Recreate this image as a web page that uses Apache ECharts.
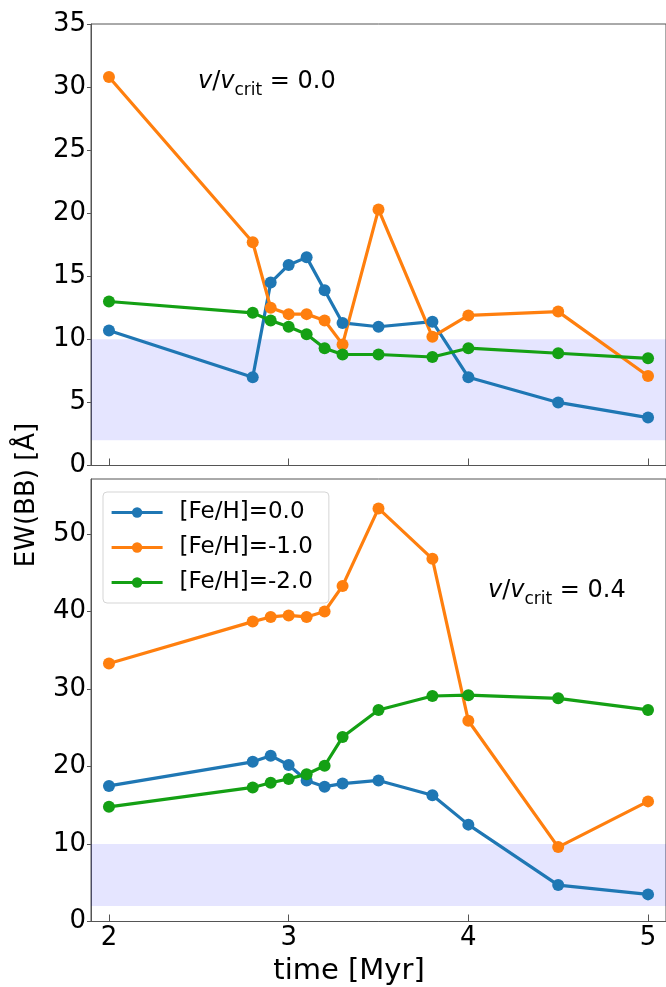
<!DOCTYPE html>
<html>
<head>
<meta charset="utf-8">
<script src="https://cdn.jsdelivr.net/npm/echarts@6/dist/echarts.min.js"></script>
<style>html,body{margin:0;padding:0;background:#fff;}#c{width:666px;height:987px;}</style>
</head>
<body>
<div id="c"></div>
<script>
const times = [2.0, 2.8, 2.9, 3.0, 3.1, 3.2, 3.3, 3.5, 3.8, 4.0, 4.5, 5.0];
const xTicks = [2, 3, 4, 5];
const seriesNames = ['[Fe/H]=0.0', '[Fe/H]=-1.0', '[Fe/H]=-2.0'];
// top panel: v/vcrit = 0.0
const top_fe0  = [10.7, 7.0, 14.5, 15.9, 16.5, 13.9, 11.3, 11.0, 11.4, 7.0, 5.0, 3.8];
const top_fem1 = [30.8, 17.7, 12.5, 12.0, 12.0, 11.5, 9.6, 20.3, 10.2, 11.9, 12.2, 7.1];
const top_fem2 = [13.0, 12.1, 11.5, 11.0, 10.4, 9.3, 8.8, 8.8, 8.6, 9.3, 8.9, 8.5];
// bottom panel: v/vcrit = 0.4
const bot_fe0  = [17.5, 20.6, 21.4, 20.2, 18.2, 17.4, 17.8, 18.2, 16.3, 12.5, 4.7, 3.5];
const bot_fem1 = [33.3, 38.7, 39.3, 39.5, 39.3, 40.0, 43.3, 53.3, 46.8, 25.9, 9.6, 15.5];
const bot_fem2 = [14.8, 17.3, 17.9, 18.4, 19.0, 20.1, 23.8, 27.3, 29.1, 29.2, 28.8, 27.3];
const bandRange = [2, 10];
const topYTicks = [0, 5, 10, 15, 20, 25, 30, 35];
const botYTicks = [0, 10, 20, 30, 40, 50];
const colors = ['#1f77b4', '#ff7f0e', '#14a014'];

const FONT = 'DejaVu Sans';
const pair = arr => times.map((t, i) => [t, arr[i]]);

function mkSeries(name, arr, color, gi, withBand) {
  const s = {
    name: name, type: 'line', xAxisIndex: gi, yAxisIndex: gi,
    data: pair(arr), symbol: 'circle', symbolSize: 12, showSymbol: true,
    lineStyle: { width: 3.2, color: color }, itemStyle: { color: color },
    animation: false, z: 3
  };
  if (withBand) {
    s.markArea = {
      silent: true, z: 1,
      itemStyle: { color: 'rgba(0,0,255,0.1)' },
      data: [[{ yAxis: bandRange[0] }, { yAxis: bandRange[1] }]]
    };
  }
  return s;
}

function xAxisDef(gi, showLabels) {
  return {
    type: 'value', gridIndex: gi, min: 1.9, max: 5.1,
    axisLine: { show: true, onZero: false, lineStyle: { color: '#555', width: 1 } },
    axisTick: { show: true, inside: true, length: 7, customValues: xTicks, lineStyle: { color: '#555' } },
    axisLabel: { show: showLabels, customValues: xTicks, fontFamily: FONT, fontSize: 26, color: '#000', margin: 4 },
    splitLine: { show: false }
  };
}
function yAxisDef(gi, max, ticks) {
  return {
    type: 'value', gridIndex: gi, min: 0, max: max,
    axisLine: { show: true, onZero: false, lineStyle: { color: '#555', width: 1 } },
    axisTick: { show: true, inside: false, length: 4, customValues: ticks, lineStyle: { color: '#555' } },
    axisLabel: { customValues: ticks, fontFamily: FONT, fontSize: 26, color: '#000', margin: 5 },
    splitLine: { show: false }
  };
}

const subRich = {
  i: { fontFamily: FONT, fontSize: 24, fontStyle: 'italic', color: '#000', verticalAlign: 'bottom', lineHeight: 30 },
  n: { fontFamily: FONT, fontSize: 24, color: '#000', verticalAlign: 'bottom', lineHeight: 30 },
  s: { fontFamily: FONT, fontSize: 17, color: '#000', verticalAlign: 'bottom', lineHeight: 30, padding: [0, 0, -5, 0] }
};

const chart = echarts.init(document.getElementById('c'), null, { renderer: 'canvas' });
chart.setOption({
  backgroundColor: '#fff',
  animation: false,
  grid: [
    { left: 91, top: 24, width: 576, height: 441.5, show: true, borderColor: '#555', borderWidth: 1, backgroundColor: 'transparent' },
    { left: 91, top: 479, width: 576, height: 442.5, show: true, borderColor: '#555', borderWidth: 1, backgroundColor: 'transparent' }
  ],
  xAxis: [xAxisDef(0, false), xAxisDef(1, true)],
  yAxis: [yAxisDef(0, 35, topYTicks), yAxisDef(1, 57.1, botYTicks)],
  legend: {
    data: seriesNames,
    orient: 'vertical', left: 103, top: 492,
    itemWidth: 51, itemHeight: 13, itemGap: 12,
    padding: [9, 16, 9, 7],
    borderColor: '#d5d5d5', borderWidth: 1, borderRadius: 4, backgroundColor: 'rgba(255,255,255,0.8)',
    lineStyle: { width: 3.2 },
    textStyle: { fontFamily: FONT, fontSize: 23, color: '#000', lineHeight: 22, padding: [0, 0, 0, 12] },
    selectedMode: false
  },
  graphic: [
    { type: 'text', left: 198, top: 70, style: { rich: subRich, text: '{i|v}{n|/}{i|v}{s|crit}{n| = 0.0}' } },
    { type: 'text', left: 488, top: 579, style: { rich: subRich, text: '{i|v}{n|/}{i|v}{s|crit}{n| = 0.4}' } },
    { type: 'text', x: 349, y: 971, style: { text: 'time [Myr]', fontFamily: FONT, fontSize: 29, fill: '#000', align: 'center', verticalAlign: 'middle' } },
    { type: 'text', x: 27, y: 495, rotation: Math.PI / 2, style: { text: 'EW(BB) [Å]', fontFamily: FONT, fontSize: 26, fill: '#000', align: 'center', verticalAlign: 'middle' } }
  ],
  series: [
    mkSeries(seriesNames[0], top_fe0, colors[0], 0, true),
    mkSeries(seriesNames[1], top_fem1, colors[1], 0, false),
    mkSeries(seriesNames[2], top_fem2, colors[2], 0, false),
    mkSeries(seriesNames[0], bot_fe0, colors[0], 1, true),
    mkSeries(seriesNames[1], bot_fem1, colors[1], 1, false),
    mkSeries(seriesNames[2], bot_fem2, colors[2], 1, false)
  ]
});
</script>
</body>
</html>
